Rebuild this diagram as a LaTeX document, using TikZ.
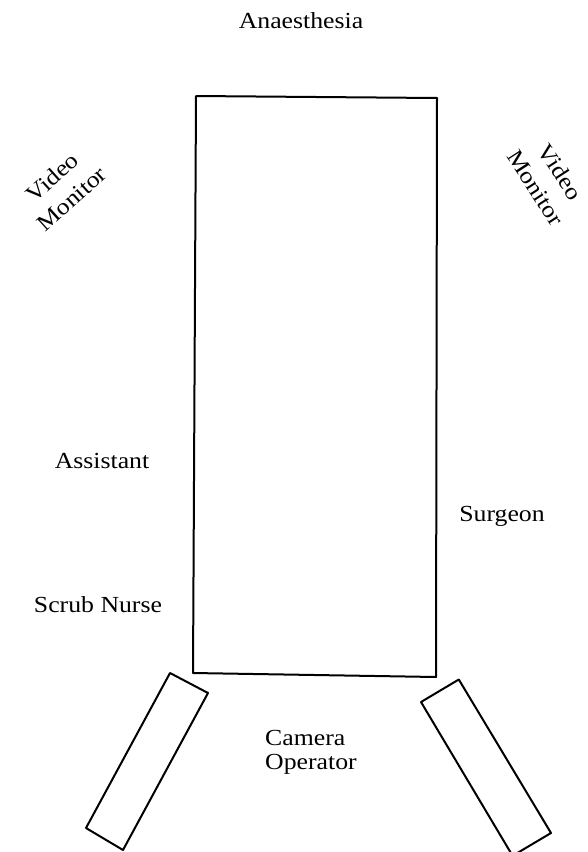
\documentclass[tikz,border=0pt]{standalone}
\usepackage{fontspec}
\setmainfont{Liberation Serif}
\newcommand{\wtxt}[1]{\scalebox{1.12}[1]{#1}}
\begin{document}
\begin{tikzpicture}[x=1pt,y=-1pt,
  lbl/.style={inner sep=0pt,font=\fontsize{23}{24}\selectfont},
  rlbl/.style={inner sep=0pt,align=center,font=\fontsize{23}{29}\selectfont},
  outl/.style={line width=2pt,line join=round}]
\useasboundingbox (0,0) rectangle (587,852);
\clip (0,0) rectangle (587,852);
% operating table
\draw[outl] (196,96) -- (437,98) -- (436,677) -- (193,673) -- cycle;
% camera operator stands
\draw[outl] (170,673) -- (208,693) -- (123,850) -- (86,828) -- cycle;
\draw[outl] (421,702) -- (458.8,679.5) -- (551,833) -- (512.6,855.8) -- cycle;
% labels
\node[lbl] (anaes) at (301,21) {\wtxt{Anaesthesia}};
\node[rlbl,rotate=42] (vml) at (62,188) {\wtxt{Video}\\\wtxt{Monitor}};
\node[rlbl,rotate=-57] (vmr) at (548,180) {\wtxt{Video}\\\wtxt{Monitor}};
\node[lbl] (assist) at (102,461) {\wtxt{Assistant}};
\node[lbl] (surg) at (502,516) {\wtxt{Surgeon}};
\node[lbl] (scrub) at (98,605) {\wtxt{Scrub Nurse}};
\node[lbl,align=left,anchor=west] (cam) at (265,752) {\wtxt{Camera}\\\wtxt{Operator}};
\end{tikzpicture}
\end{document}
